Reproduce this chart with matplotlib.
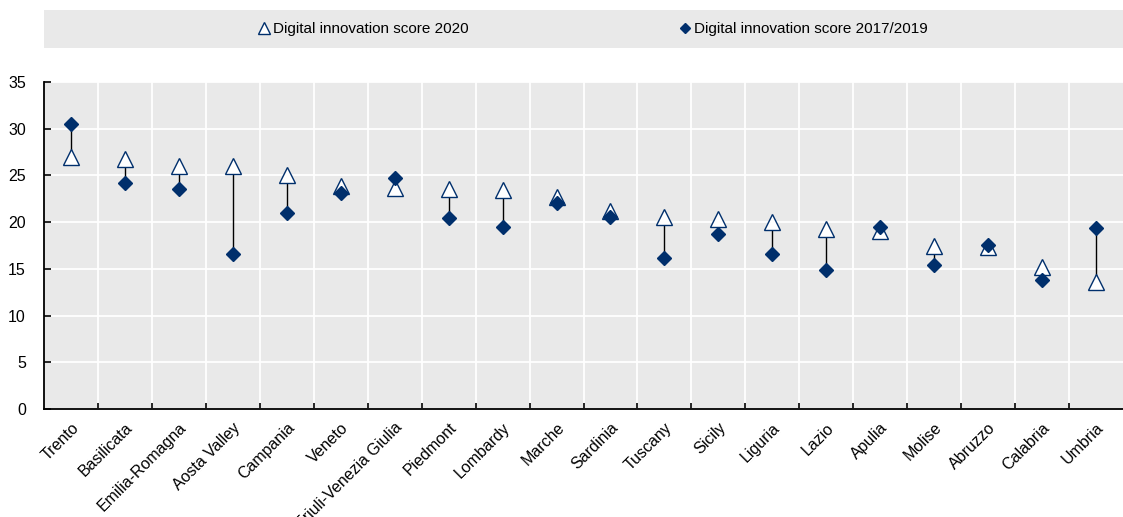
import matplotlib.pyplot as plt
from matplotlib.patches import Rectangle
from matplotlib.lines import Line2D
import numpy as np

plt.rcParams['font.family'] = ['Liberation Sans', 'DejaVu Sans']

# Regions, ordered by 2020 score
regions = ["Trento", "Basilicata", "Emilia-Romagna", "Aosta Valley", "Campania",
           "Veneto", "Friuli-Venezia Giulia", "Piedmont", "Lombardy", "Marche",
           "Sardinia", "Tuscany", "Sicily", "Liguria", "Lazio", "Apulia",
           "Molise", "Abruzzo", "Calabria", "Umbria"]
score_2020 = [27.0, 26.8, 26.0, 26.0, 25.0, 23.9, 23.7, 23.5, 23.4, 22.7,
              21.2, 20.6, 20.3, 20.0, 19.3, 19.1, 17.4, 17.3, 15.2, 13.6]
score_2017_2019 = [30.5, 24.2, 23.6, 16.6, 21.0, 23.1, 24.7, 20.4, 19.5, 22.05,
                   20.5, 16.2, 18.7, 16.6, 14.9, 19.5, 15.4, 17.5, 13.85, 19.4]

label_2020 = "Digital innovation score 2020"
label_old = "Digital innovation score 2017/2019"

navy = "#002F6C"
panel = "#E9E9E9"

fig = plt.figure(figsize=(11.23, 5.17), dpi=100)
ax = fig.add_axes([0.0392, 0.2089, 0.9608, 0.6325])
ax.set_facecolor(panel)

x = np.arange(len(regions))

# thin connectors between the two scores
ax.vlines(x, score_2020, score_2017_2019, color="black", linewidth=1.0, zorder=2)
ax.plot(x, score_2020, linestyle="none", marker="^", markersize=11.5,
        markerfacecolor="white", markeredgecolor=navy, markeredgewidth=1.0, zorder=3)
ax.plot(x, score_2017_2019, linestyle="none", marker="D", markersize=7.5,
        markerfacecolor=navy, markeredgecolor=navy, zorder=4)

ax.set_xlim(-0.5, len(regions) - 0.5)
ax.set_ylim(0, 35)
ax.set_yticks(range(0, 36, 5))
ax.set_xticks(x)
ax.set_xticklabels(regions, rotation=45, ha="right", rotation_mode="anchor")
ax.set_xticks(x[:-1] + 0.5, minor=True)

ax.tick_params(axis="x", which="major", length=0, pad=8, labelsize=11.5)
ax.tick_params(axis="x", which="minor", direction="in", length=4, width=1.2, color="black")
ax.tick_params(axis="y", direction="in", length=5, width=1.2, labelsize=11.5, pad=13)

ax.grid(True, axis="y", which="major", color="white", linewidth=1.3)
ax.grid(True, axis="x", which="minor", color="white", linewidth=1.3)
ax.set_axisbelow(True)

for side in ("top", "right"):
    ax.spines[side].set_visible(False)
for side in ("left", "bottom"):
    ax.spines[side].set_linewidth(1.3)
    ax.spines[side].set_color("black")

# legend strip across the top
fig.patches.append(Rectangle((0.0392, 1 - 48 / 517), 0.9608, 38 / 517,
                             transform=fig.transFigure, facecolor=panel,
                             edgecolor="none", zorder=0))
handles = [
    Line2D([], [], linestyle="none", marker="^", markersize=8,
           markerfacecolor="white", markeredgecolor=navy, markeredgewidth=1.0),
    Line2D([], [], linestyle="none", marker="D", markersize=5.5,
           markerfacecolor=navy, markeredgecolor=navy),
]
fig.legend(handles, [label_2020, label_old], loc="center",
           bbox_to_anchor=(593 / 1123, 1 - 29 / 517), ncol=2, frameon=False,
           fontsize=11, handlelength=0.7, handletextpad=0.25, columnspacing=13.8)

fig.savefig("out.png", dpi=100)
